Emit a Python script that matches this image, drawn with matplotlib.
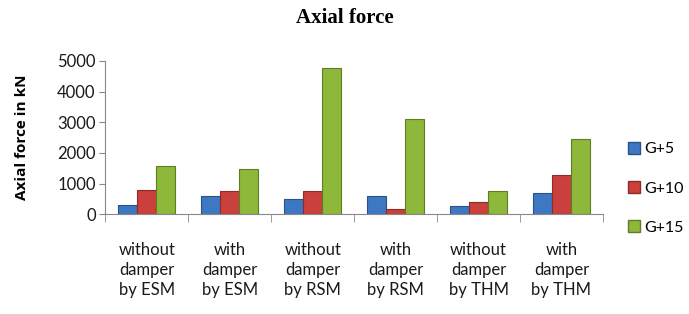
import matplotlib
matplotlib.use("Agg")
import matplotlib.pyplot as plt
import numpy as np
from matplotlib.patches import Patch

categories = ["without\ndamper\nby ESM", "with\ndamper\nby ESM", "without\ndamper\nby RSM",
              "with\ndamper\nby RSM", "without\ndamper\nby THM", "with\ndamper\nby THM"]
series_names = ["G+5", "G+10", "G+15"]
g5 = [300, 600, 500, 600, 250, 690]
g10 = [790, 740, 740, 160, 390, 1270]
g15 = [1570, 1470, 4780, 3120, 740, 2440]
yticks = [0, 1000, 2000, 3000, 4000, 5000]

colors = ["#3E78C2", "#C9403C", "#8DB83A"]
edges = ["#2A5286", "#8E2A28", "#5F7D26"]
FONT = "Lato"

fig = plt.figure(figsize=(6.89, 3.14), dpi=100)
ax = fig.add_axes([0.153, 0.318, 0.722, 0.488])

x = np.arange(len(categories))
w = 0.23
for i, (vals, c, e) in enumerate(zip([g5, g10, g15], colors, edges)):
    ax.bar(x + (i - 1) * w, vals, w, color=c, edgecolor=e, linewidth=0.8, label=series_names[i])

ax.set_xlim(-0.5, len(categories) - 0.5)
ax.set_ylim(0, 5000)
ax.set_yticks(yticks)
ax.tick_params(axis='y', labelsize=12, length=4, color="#888888", pad=3)
ax.set_xticks(x)
ax.set_xticklabels(categories, fontsize=12, linespacing=1.3)
ax.tick_params(axis='x', length=0, pad=20)
ax.set_xticks(np.arange(-0.5, len(categories) + 0.5, 1), minor=True)
ax.tick_params(axis='x', which='minor', length=6, color="#888888", direction='out')
for lab in ax.get_xticklabels() + ax.get_yticklabels():
    lab.set_family(FONT)
    lab.set_color("#1a1a1a")

for s in ["top", "right"]:
    ax.spines[s].set_visible(False)
ax.spines["left"].set_color("#888888")
ax.spines["bottom"].set_color("#888888")

ax.set_ylabel("Axial force in kN", fontsize=11, fontweight="bold", family="Open Sans", labelpad=20)
fig.suptitle("Axial force", x=0.5, y=0.975, fontsize=15, fontweight="bold", family="Liberation Serif")

handles = [Patch(facecolor=c, edgecolor=e) for c, e in zip(colors, edges)]
leg = fig.legend(handles, series_names, loc="center left", bbox_to_anchor=(0.912, 0.4),
                 frameon=False, labelspacing=1.55, handlelength=0.75, handleheight=0.75,
                 handletextpad=0.25, borderaxespad=0, borderpad=0,
                 prop={"family": FONT, "size": 11.5})

fig.savefig("out.png", dpi=100)
